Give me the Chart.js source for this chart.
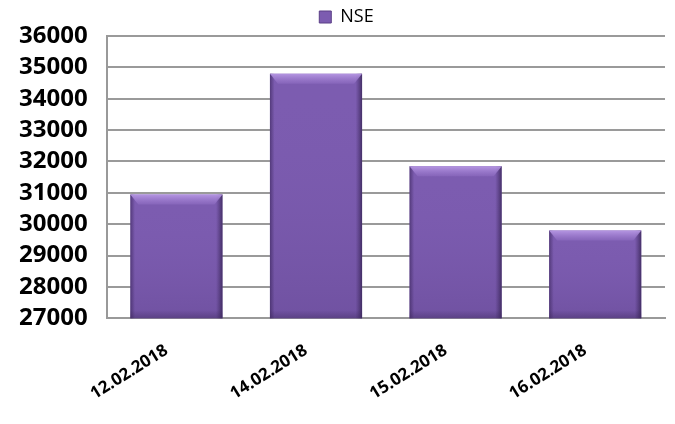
<!DOCTYPE html>
<html>
<head>
<meta charset="utf-8">
<script src="https://cdn.jsdelivr.net/npm/chart.js@4.4.0/dist/chart.umd.min.js"></script>
<style>
  html, body { margin: 0; padding: 0; background: #fff; }
  #wrap { width: 675px; height: 424px; }
</style>
</head>
<body>
<div id="wrap"><canvas id="nse-chart"></canvas></div>
<script>
// chart data
const dates = ['12.02.2018', '14.02.2018', '15.02.2018', '16.02.2018'];
const nseValues = [30950, 34800, 31850, 29800];
const yTicks = [27000, 28000, 29000, 30000, 31000, 32000, 33000, 34000, 35000, 36000];

const ctx = document.getElementById('nse-chart').getContext('2d');

// shading on top of each bar: vertical fade, dark sides, light top bevel
const bevel = {
    id: 'bevel',
    afterLayout(chart) {
        // nudge the legend a bit right
        chart.legend.left += 14;
        chart.legend.right += 14;
    },
    afterDatasetsDraw(chart) {
        const c = chart.ctx;
        const bottom = chart.chartArea.bottom;
        chart.getDatasetMeta(0).data.forEach(bar => {
            const left = bar.x - bar.width / 2;
            const right = bar.x + bar.width / 2;
            const top = bar.y;
            const h = bottom - top;
            c.save();
            // vertical fade to darker bottom
            let g = c.createLinearGradient(0, top, 0, bottom);
            g.addColorStop(0, 'rgba(130,95,185,0)');
            g.addColorStop(1, 'rgba(70,45,110,0.22)');
            c.fillStyle = g;
            c.fillRect(left, top, bar.width, h);
            // side edges
            g = c.createLinearGradient(left, 0, right, 0);
            g.addColorStop(0, 'rgba(50,30,80,0.55)');
            g.addColorStop(0.05, 'rgba(50,30,80,0)');
            g.addColorStop(0.93, 'rgba(50,30,80,0)');
            g.addColorStop(1, 'rgba(40,25,65,0.65)');
            c.fillStyle = g;
            c.fillRect(left, top, bar.width, h);
            // top bevel
            g = c.createLinearGradient(0, top, 0, top + 10);
            g.addColorStop(0, '#b596e2');
            g.addColorStop(1, 'rgba(165,130,215,0.25)');
            c.fillStyle = g;
            c.beginPath();
            c.moveTo(left, top);
            c.lineTo(right, top);
            c.lineTo(right - 8, top + 10);
            c.lineTo(left + 8, top + 10);
            c.closePath();
            c.fill();
            // bottom strip
            g = c.createLinearGradient(0, bottom - 8, 0, bottom);
            g.addColorStop(0, 'rgba(60,40,90,0)');
            g.addColorStop(1, 'rgba(60,40,90,0.4)');
            c.fillStyle = g;
            c.fillRect(left, bottom - 8, bar.width, 8);
            c.restore();
        });
    }
};

new Chart(ctx, {
    type: 'bar',
    data: {
        labels: dates,
        datasets: [{
            label: 'NSE',
            data: nseValues,
            backgroundColor: '#7c5cb0',
            borderWidth: 0,
            categoryPercentage: 1,
            barPercentage: 0.66
        }]
    },
    plugins: [bevel],
    options: {
        responsive: true,
        maintainAspectRatio: false,
        animation: false,
        layout: { padding: { left: 0, right: 10, top: 2, bottom: 6 } },
        plugins: {
            legend: {
                display: true,
                labels: {
                    boxWidth: 12,
                    boxHeight: 12,
                    padding: 6,
                    color: '#000',
                    font: { family: 'Open Sans', size: 18 },
                    generateLabels: () => [{
                        text: 'NSE',
                        fillStyle: '#7c5cb0',
                        strokeStyle: '#5b3f86',
                        lineWidth: 1
                    }]
                }
            },
            tooltip: { enabled: false }
        },
        scales: {
            x: {
                grid: { display: false },
                border: { color: '#999', width: 2 },
                ticks: {
                    color: '#000',
                    autoSkip: false,
                    minRotation: 32,
                    maxRotation: 32,
                    padding: 14,
                    labelOffset: -10,
                    font: { family: 'Open Sans', size: 17, weight: 'bold' }
                }
            },
            y: {
                min: 27000,
                max: 36000,
                afterBuildTicks: axis => { axis.ticks = yTicks.map(v => ({ value: v })); },
                grid: { color: '#9a9a9a', lineWidth: 2, drawTicks: false },
                border: { color: '#999', width: 2 },
                ticks: {
                    color: '#000',
                    autoSkip: false,
                    padding: 19,
                    callback: v => String(v),
                    font: { family: 'Open Sans', size: 24, weight: 'bold' }
                }
            }
        }
    }
});
</script>
</body>
</html>
